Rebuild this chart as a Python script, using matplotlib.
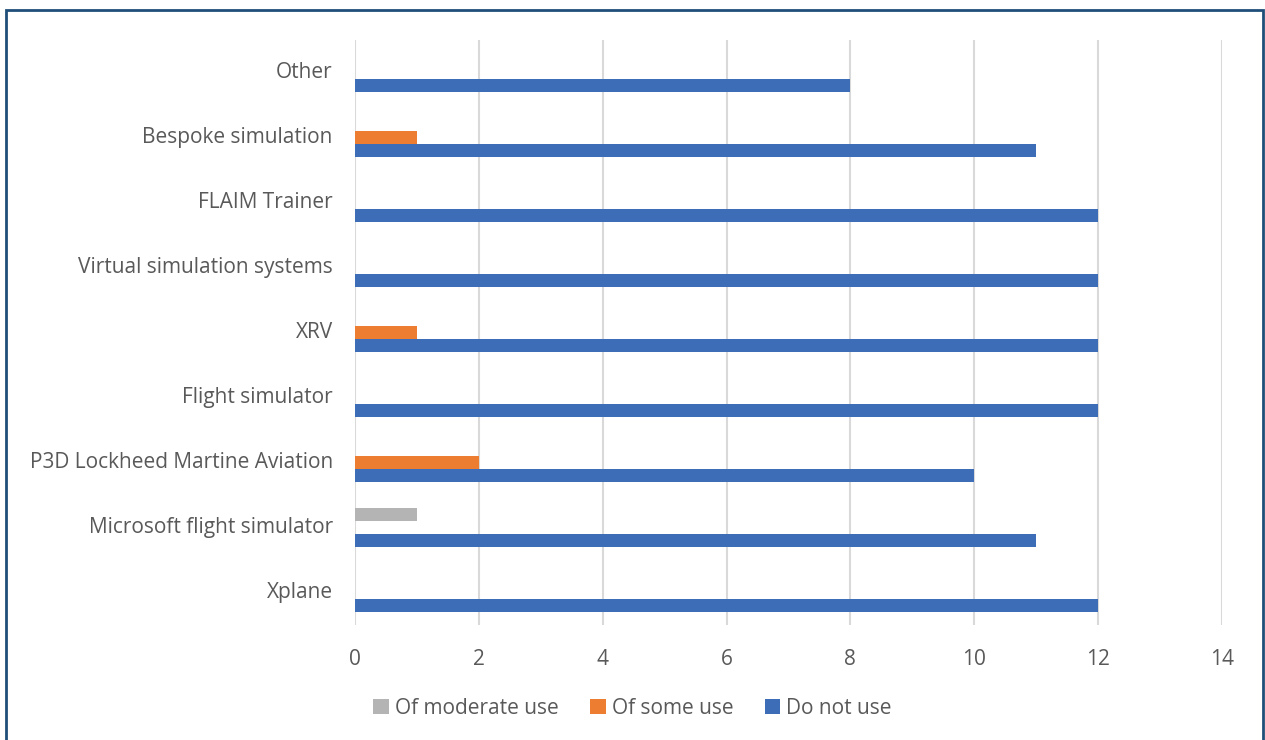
import matplotlib.pyplot as plt
import matplotlib.patches as patches
import numpy as np

categories = ["Xplane", "Microsoft flight simulator", "P3D Lockheed Martine Aviation",
              "Flight simulator", "XRV", "Virtual simulation systems",
              "FLAIM Trainer", "Bespoke simulation", "Other"]
moderate_use = [0, 1, 0, 0, 0, 0, 0, 0, 0]
some_use = [0, 0, 2, 0, 1, 0, 0, 1, 0]
do_not_use = [12, 11, 10, 12, 12, 12, 12, 11, 8]

text_col = "#595959"
plt.rcParams['font.family'] = ['Open Sans', 'DejaVu Sans']

fig = plt.figure(figsize=(12.65, 7.4), dpi=100)
ax = fig.add_axes([355 / 1265, 1 - 625 / 740, (1222 - 355) / 1265, (625 - 40) / 740])

y = np.arange(len(categories))
h = 0.2
ax.barh(y + h, moderate_use, h, color="#B4B4B4", label="Of moderate use", zorder=3)
ax.barh(y, some_use, h, color="#ED7D31", label="Of some use", zorder=3)
ax.barh(y - h, do_not_use, h, color="#3E6DB7", label="Do not use", zorder=3)

ax.set_xlim(0, 14)
ax.set_ylim(-0.5, len(categories) - 0.5)
ax.set_xticks(range(0, 15, 2))
ax.set_yticks(y)
ax.set_yticklabels(categories, va='center')
ax.tick_params(axis='both', length=0, labelsize=15, labelcolor=text_col)
ax.tick_params(axis='x', pad=17)
ax.tick_params(axis='y', pad=16)
for lbl in ax.get_yticklabels():
    lbl.set_y(lbl.get_position()[1])
ax.grid(axis='x', color="#D9D9D9", linewidth=1.5, zorder=0)
for s in ax.spines.values():
    s.set_visible(False)

fig.legend(loc='center', bbox_to_anchor=(0.5, 1 - 708 / 740), ncol=3, frameon=False,
           fontsize=15, labelcolor=text_col, handlelength=0.75, handleheight=0.75,
           handletextpad=0.3, columnspacing=1.5)

# outer frame
fig.patches.append(patches.Rectangle((6 / 1265, -0.01), 1257 / 1265, 1 - 10 / 740 + 0.01,
                                     transform=fig.transFigure, fill=False,
                                     edgecolor="#1F4E79", linewidth=2))

fig.savefig("out.png", dpi=100)
